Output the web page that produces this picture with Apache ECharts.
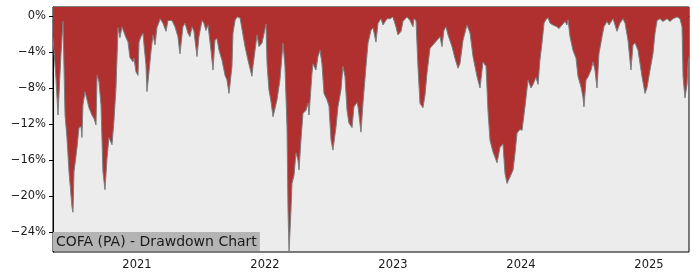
<!DOCTYPE html>
<html>
<head>
<meta charset="utf-8">
<script src="https://cdn.jsdelivr.net/npm/echarts@6/dist/echarts.min.js"></script>
<style>
html,body{margin:0;padding:0;background:#fff;}
#chart{width:700px;height:280px;}
</style>
</head>
<body>
<div id="chart"></div>
<script>
// Dates as decimal years
var years = [
2020.344,2020.367,2020.383,2020.406,2020.422,2020.438,2020.453,2020.469,2020.492,2020.500,
2020.508,2020.531,2020.547,2020.563,2020.570,2020.578,2020.594,2020.609,2020.625,2020.648,
2020.664,2020.680,2020.688,2020.703,2020.719,2020.734,2020.750,2020.766,2020.781,2020.805,
2020.820,2020.836,2020.852,2020.867,2020.883,2020.898,2020.914,2020.930,2020.945,2020.969,
2020.977,2020.992,2021.008,2021.016,2021.031,2021.047,2021.055,2021.070,2021.078,2021.094,
2021.109,2021.125,2021.141,2021.156,2021.172,2021.180,2021.203,2021.227,2021.242,2021.273,
2021.297,2021.320,2021.336,2021.359,2021.375,2021.398,2021.414,2021.430,2021.445,2021.469,
2021.484,2021.508,2021.523,2021.539,2021.555,2021.578,2021.594,2021.609,2021.625,2021.641,
2021.664,2021.688,2021.703,2021.719,2021.742,2021.750,2021.766,2021.781,2021.805,2021.820,
2021.844,2021.867,2021.898,2021.906,2021.938,2021.953,2021.977,2022.008,2022.016,2022.031,
2022.047,2022.063,2022.094,2022.117,2022.141,2022.156,2022.172,2022.180,2022.188,2022.203,
2022.211,2022.227,2022.242,2022.258,2022.266,2022.281,2022.297,2022.320,2022.336,2022.344,
2022.367,2022.375,2022.398,2022.414,2022.430,2022.445,2022.461,2022.484,2022.500,2022.516,
2022.531,2022.555,2022.570,2022.594,2022.609,2022.625,2022.641,2022.656,2022.680,2022.695,
2022.719,2022.727,2022.750,2022.766,2022.789,2022.805,2022.828,2022.844,2022.867,2022.883,
2022.906,2022.922,2022.953,2022.977,2023.000,2023.023,2023.039,2023.063,2023.078,2023.109,
2023.133,2023.156,2023.164,2023.180,2023.195,2023.211,2023.234,2023.250,2023.266,2023.289,
2023.313,2023.344,2023.367,2023.383,2023.398,2023.414,2023.430,2023.461,2023.484,2023.508,
2023.523,2023.547,2023.578,2023.602,2023.625,2023.656,2023.680,2023.703,2023.727,2023.742,
2023.758,2023.781,2023.813,2023.836,2023.859,2023.875,2023.891,2023.914,2023.938,2023.953,
2023.969,2023.992,2024.008,2024.031,2024.055,2024.078,2024.094,2024.117,2024.133,2024.148,
2024.164,2024.180,2024.195,2024.211,2024.227,2024.250,2024.281,2024.297,2024.320,2024.344,
2024.359,2024.367,2024.383,2024.406,2024.430,2024.445,2024.469,2024.484,2024.492,2024.508,
2024.523,2024.547,2024.563,2024.578,2024.594,2024.609,2024.633,2024.648,2024.672,2024.688,
2024.719,2024.734,2024.750,2024.773,2024.797,2024.813,2024.836,2024.859,2024.875,2024.891,
2024.914,2024.945,2024.969,2024.984,2025.008,2025.031,2025.047,2025.063,2025.086,2025.109,
2025.141,2025.164,2025.188,2025.219,2025.242,2025.258,2025.266,2025.281,2025.297,2025.305,
2025.313
];
// Drawdown in percent
var drawdown = [
-2.4,-6.9,-11.0,-4.3,-0.6,-11.0,-13.5,-17.3,-21.2,-21.8,
-17.3,-14.7,-12.4,-12.3,-13.5,-9.9,-8.4,-8.2,-10.2,-11.0,
-11.4,-12.1,-6.6,-7.3,-9.9,-17.3,-19.3,-15.8,-13.5,-14.3,
-11.7,-8.0,-1.3,-2.4,-1.2,-1.8,-2.4,-2.9,-4.6,-5.1,
-4.7,-6.2,-6.6,-2.9,-2.3,-1.9,-3.2,-5.4,-8.4,-6.2,
-4.0,-2.1,-3.2,-1.3,-0.7,-0.3,-0.8,-1.7,-0.5,-0.5,
-1.2,-2.3,-4.2,-1.2,-0.8,-1.9,-2.3,-1.2,-1.7,-4.5,
-2.3,-0.5,-0.8,-1.6,-1.0,-3.8,-6.0,-2.7,-2.5,-3.8,
-4.9,-6.6,-7.1,-8.6,-5.6,-1.9,-0.5,-0.1,-0.2,-0.2,
-3.4,-4.9,-6.7,-5.6,-2.1,-3.4,-3.0,-0.9,-5.3,-8.2,
-9.5,-11.2,-9.3,-7.1,-3.0,-5.6,-12.3,-21.6,-26.2,-21.6,
-18.6,-17.7,-15.2,-16.0,-17.1,-13.8,-10.8,-10.5,-9.7,-11.0,
-6.4,-5.3,-6.0,-4.5,-3.8,-5.3,-8.6,-9.3,-10.0,-13.8,
-14.9,-12.3,-10.1,-8.2,-5.6,-6.7,-10.5,-11.9,-12.4,-10.1,
-9.6,-10.1,-12.9,-9.6,-5.6,-3.0,-1.6,-1.3,-2.9,-0.8,
-0.3,-1.0,-0.3,-0.3,-0.1,-1.2,-2.1,-1.7,-0.6,-0.1,
-0.5,-1.2,-0.3,-0.5,-5.6,-9.7,-10.2,-8.8,-6.3,-3.6,
-3.2,-2.7,-2.3,-3.4,-1.6,-1.2,-2.1,-3.4,-4.7,-5.8,
-5.3,-2.7,-1.0,-1.9,-4.5,-6.7,-8.0,-5.1,-5.6,-10.5,
-13.8,-15.1,-16.3,-14.6,-14.2,-17.5,-18.6,-17.9,-17.1,-15.3,
-13.0,-12.6,-12.7,-10.1,-7.1,-8.0,-7.6,-6.8,-7.6,-4.9,
-3.0,-0.8,-0.4,-0.2,-0.8,-1.0,-1.2,-1.4,-1.0,-0.6,
-1.0,-0.4,-2.3,-3.8,-4.7,-6.7,-7.9,-9.0,-10.1,-7.1,
-6.8,-6.0,-5.1,-6.0,-8.0,-4.2,-2.3,-1.2,-0.6,-1.0,
-0.3,-0.3,-1.7,-0.8,-0.3,-0.8,-2.7,-6.0,-3.2,-3.0,
-3.8,-6.7,-8.6,-8.0,-6.0,-4.2,-1.9,-0.5,-0.3,-0.6,
-0.3,-0.6,-0.3,-0.1,-0.3,-1.2,-6.7,-9.1,-7.6,-5.3,
-4.5
];
var xTicks = [2021, 2022, 2023, 2024, 2025];
var yTicks = [0, -4, -8, -12, -16, -20, -24];
var titleText = 'COFA (PA) - Drawdown Chart';

var seriesData = years.map(function (y, i) { return [y, drawdown[i]]; });
var font = 'DejaVu Sans';

var chart = echarts.init(document.getElementById('chart'), null, {renderer: 'canvas'});
chart.setOption({
  animation: false,
  backgroundColor: '#ffffff',
  title: {
    text: titleText,
    left: 53, top: 232,
    padding: [3, 3, 2, 3],
    backgroundColor: '#b4b4b4',
    textStyle: {fontFamily: font, fontSize: 14, fontWeight: 'normal', color: '#1a1a1a', lineHeight: 14}
  },
  grid: {
    left: 53, right: 11, top: 7, bottom: 28,
    show: true, backgroundColor: '#ececec', borderColor: '#000', borderWidth: 1
  },
  xAxis: {
    type: 'value',
    min: 2020.344, max: 2025.3125,
    splitLine: {show: false},
    axisLine: {show: true, lineStyle: {color: '#000', width: 1}},
    axisTick: {show: true, length: 4, customValues: xTicks, lineStyle: {color: '#000'}},
    axisLabel: {
      customValues: xTicks, margin: 7,
      fontFamily: font, fontSize: 11.5, color: '#1a1a1a',
      formatter: function (v) { return String(Math.round(v)); }
    }
  },
  yAxis: {
    type: 'value',
    min: -26.22, max: 1.0,
    splitLine: {show: false},
    axisLine: {show: true, lineStyle: {color: '#000', width: 1}},
    axisTick: {show: true, length: 4, customValues: yTicks, lineStyle: {color: '#000'}},
    axisLabel: {
      customValues: yTicks, margin: 7,
      fontFamily: font, fontSize: 11.5, color: '#1a1a1a',
      formatter: function (v) { return v === 0 ? '0%' : '\u2212' + Math.abs(v) + '%'; }
    }
  },
  series: [{
    type: 'line',
    data: seriesData,
    showSymbol: false,
    symbol: 'none',
    smooth: false,
    lineStyle: {color: '#7d7d7d', width: 1},
    areaStyle: {color: '#b03030', opacity: 1, origin: 'end'},
    z: 2
  }]
});
</script>
</body>
</html>
